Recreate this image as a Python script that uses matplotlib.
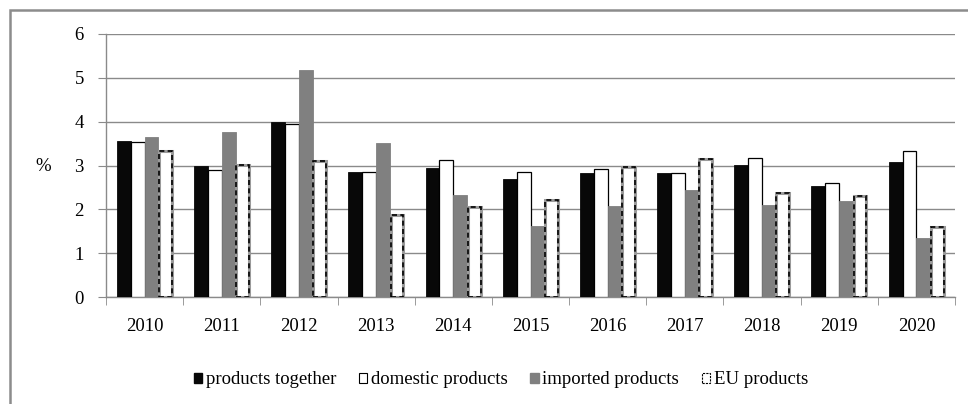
import matplotlib
matplotlib.use("Agg")
import matplotlib.pyplot as plt
import numpy as np
from matplotlib.patches import Rectangle

years = ["2010", "2011", "2012", "2013", "2014", "2015", "2016", "2017", "2018", "2019", "2020"]
products_together = [3.55, 2.98, 3.99, 2.86, 2.95, 2.70, 2.84, 2.82, 3.02, 2.54, 3.07]
domestic_products = [3.54, 2.89, 3.94, 2.86, 3.13, 2.86, 2.91, 2.84, 3.16, 2.61, 3.34]
imported_products = [3.65, 3.77, 5.17, 3.52, 2.32, 1.62, 2.07, 2.45, 2.09, 2.20, 1.35]
eu_products = [3.33, 3.02, 3.10, 1.88, 2.05, 2.21, 2.96, 3.15, 2.37, 2.30, 1.60]
series_labels = ["products together", "domestic products", "imported products", "EU products"]

plt.rcParams['font.family'] = ['Liberation Serif', 'DejaVu Serif']
FS = 13.5

fig = plt.figure(figsize=(9.68, 4.04), dpi=100)
ax = fig.add_axes([106/968, 107/404, (955-106)/968, (297-34)/404])

# outer frame (cropped at right/bottom)
fig.add_artist(Rectangle((10/968, -0.1), 1.2, (404-10)/404 + 0.1, transform=fig.transFigure,
                         fill=False, edgecolor='#8c8c8c', linewidth=1.8))

x = np.arange(len(years))
w = 0.18
gridc = '#8a8a8a'
ax.bar(x - 1.5*w, products_together, w, color='#080808', edgecolor='#080808', linewidth=0.6, zorder=3)
ax.bar(x - 0.5*w, domestic_products, w, color='white', edgecolor='black', linewidth=0.9, zorder=3)
ax.bar(x + 0.5*w, imported_products, w, color='#808080', edgecolor='#808080', linewidth=0.6, zorder=3)
ax.bar(x + 1.5*w, eu_products, w*0.92, color='white', edgecolor='#9a9a9a', linewidth=2.2, zorder=3)
ax.bar(x + 1.5*w, eu_products, w*0.92, color='none', edgecolor='black', linewidth=1.2,
       linestyle=(0, (3, 2)), zorder=4)

ax.set_xlim(-0.5, len(years) - 0.5)
ax.set_ylim(0, 6)
ax.set_yticks(range(0, 7))
ax.yaxis.grid(True, color=gridc, linewidth=1.0, zorder=0)
ax.set_axisbelow(True)
for s in ['top', 'right']:
    ax.spines[s].set_visible(False)
ax.spines['left'].set_color(gridc)
ax.spines['bottom'].set_color(gridc)
ax.spines['left'].set_linewidth(1.0)
ax.spines['bottom'].set_linewidth(1.0)

ax.set_xticks(x)
ax.set_xticklabels(years, fontsize=FS)
ax.set_xticks(np.arange(-0.5, len(years)), minor=True)
ax.tick_params(axis='x', which='major', length=0, pad=15)
ax.tick_params(axis='x', which='minor', length=6, color=gridc, direction='out')
ax.tick_params(axis='y', length=6, color=gridc, labelsize=FS, pad=10)

fig.text(43/968, 1 - 167/404, "%", fontsize=FS, ha='center', va='center')

handles = [
    Rectangle((0, 0), 1, 1, facecolor='#080808', edgecolor='#080808'),
    Rectangle((0, 0), 1, 1, facecolor='white', edgecolor='black', linewidth=0.8),
    Rectangle((0, 0), 1, 1, facecolor='#808080', edgecolor='#808080'),
    Rectangle((0, 0), 1, 1, facecolor='white', edgecolor='black', linewidth=0.8, linestyle=(0, (2, 1))),
]
fig.legend(handles, series_labels, loc='center', bbox_to_anchor=(501/968, 1 - 380/404), ncol=4,
           frameon=False, fontsize=FS, handlelength=0.45, handleheight=0.45, handletextpad=0.2,
           columnspacing=1.2)

fig.savefig("out.png", dpi=100)
